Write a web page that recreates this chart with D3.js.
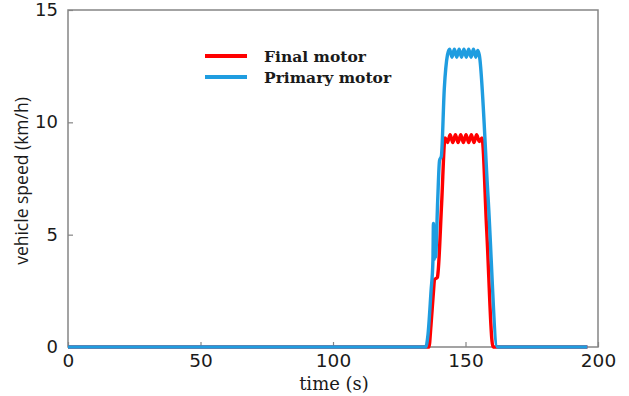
<!DOCTYPE html>
<html>
<head>
<meta charset="utf-8">
<script src="https://cdn.jsdelivr.net/npm/d3@7"></script>
<style>
  body { margin: 0; background: #fff; }
  svg { display: block; }
</style>
</head>
<body>
<svg id="chart" width="629" height="396"></svg>
<script>
// Axis ticks
const xTicks = [0, 50, 100, 150, 200];
const yTicks = [0, 5, 10, 15];

// Final motor: time (s) and vehicle speed (km/h)
const finalTime  = [0, 136.2, 137.0, 138.0, 138.3, 139.4, 139.7, 141.0, 142.3,
                    143.2, 144.2, 145.2, 146.2, 147.2, 148.2, 149.2, 150.2, 151.2, 152.2, 153.2, 154.2, 155.2, 156.2,
                    158.0, 160.4, 196.0];
const finalSpeed = [0, 0, 1.0, 2.6, 3.0, 3.1, 3.4, 6.4, 9.3,
                    9.1, 9.45, 9.1, 9.45, 9.1, 9.45, 9.1, 9.45, 9.1, 9.45, 9.1, 9.45, 9.15, 9.3,
                    5.2, 0, 0];

// Primary motor: time (s) and vehicle speed (km/h)
const primaryTime  = [0, 135.0, 135.8, 137.0, 137.7, 137.9, 138.2, 138.4, 138.7, 139.5, 140.2, 140.9, 142.0, 143.2,
                      144.0, 144.9, 145.8, 146.7, 147.6, 148.5, 149.4, 150.3, 151.2, 152.1, 153.0, 153.9, 154.6, 155.2,
                      158.5, 162.0, 196.0];
const primarySpeed = [0, 0, 0.5, 2.5, 3.8, 5.5, 3.9, 5.3, 4.0, 6.5, 8.3, 8.5, 11.5, 13.0,
                      13.25, 12.9, 13.25, 12.9, 13.25, 12.9, 13.25, 12.9, 13.25, 12.9, 13.25, 12.9, 13.2, 13.0,
                      6.7, 0, 0];

const seriesNames  = ["Final motor", "Primary motor"];
const seriesColors = ["#ff0000", "#1f9de0"];

const svg = d3.select("#chart");
const plotLeft = 68, plotRight = 598, plotTop = 10, plotBottom = 347;

const x = d3.scaleLinear().domain([0, 200]).range([plotLeft, plotRight]);
const y = d3.scaleLinear().domain([0, 15]).range([plotBottom, plotTop]);

const axisColor = "#858585";
const textColor = "#1a1a1a";

const series = [
  { name: seriesNames[0], color: seriesColors[0], pts: finalTime.map((t, i) => [t, finalSpeed[i]]) },
  { name: seriesNames[1], color: seriesColors[1], pts: primaryTime.map((t, i) => [t, primarySpeed[i]]) }
];
const line = d3.line().x(d => x(d[0])).y(d => y(d[1])).curve(d3.curveMonotoneX);

// Frame
svg.append("rect")
  .attr("x", plotLeft).attr("y", plotTop)
  .attr("width", plotRight - plotLeft).attr("height", plotBottom - plotTop)
  .attr("fill", "none").attr("stroke", axisColor).attr("stroke-width", 1.5);

// Bottom axis: inward ticks
const xAxis = d3.axisBottom(x).tickValues(xTicks).tickSizeInner(-5).tickSizeOuter(0).tickPadding(7);
const gx = svg.append("g").attr("transform", `translate(0,${plotBottom})`).call(xAxis);
gx.select(".domain").remove();
gx.selectAll(".tick line").attr("stroke", axisColor).attr("stroke-width", 1.2);
gx.selectAll(".tick text")
  .attr("fill", textColor)
  .style("font-family", "'DejaVu Sans', sans-serif")
  .style("font-size", "18.5px");

// Left axis: inward ticks
const yAxis = d3.axisLeft(y).tickValues(yTicks).tickSizeInner(-5).tickSizeOuter(0).tickPadding(10);
const gy = svg.append("g").attr("transform", `translate(${plotLeft},0)`).call(yAxis);
gy.select(".domain").remove();
gy.selectAll(".tick line").attr("stroke", axisColor).attr("stroke-width", 1.2);
gy.selectAll(".tick text")
  .attr("fill", textColor)
  .attr("dy", "0.3em")
  .style("font-family", "'DejaVu Sans', sans-serif")
  .style("font-size", "18px");

// Series lines (final motor underneath)
svg.append("g").selectAll("path")
  .data(series)
  .join("path")
  .attr("d", d => line(d.pts))
  .attr("fill", "none")
  .attr("stroke", d => d.color)
  .attr("stroke-width", 3.4)
  .attr("stroke-linejoin", "round");

// Axis titles
svg.append("text")
  .attr("transform", "translate(28,181) rotate(-90)")
  .attr("text-anchor", "middle")
  .attr("fill", textColor)
  .style("font-family", "'Open Sans', sans-serif")
  .style("font-size", "17.5px")
  .text("vehicle speed (km/h)");

svg.append("text")
  .attr("x", 334).attr("y", 390)
  .attr("text-anchor", "middle")
  .attr("fill", textColor)
  .style("font-family", "'DejaVu Serif', serif")
  .style("font-size", "18px")
  .text("time (s)");

// Legend
const legend = svg.append("g");
series.forEach((s, i) => {
  const ly = 56 + i * 21;
  legend.append("line")
    .attr("x1", 205).attr("x2", 247)
    .attr("y1", ly).attr("y2", ly)
    .attr("stroke", s.color).attr("stroke-width", 4);
  legend.append("text")
    .attr("x", 264).attr("y", ly + 6)
    .attr("fill", textColor)
    .style("font-family", "'DejaVu Serif', serif")
    .style("font-weight", "bold")
    .style("font-size", "15.5px")
    .text(s.name);
});
</script>
</body>
</html>
